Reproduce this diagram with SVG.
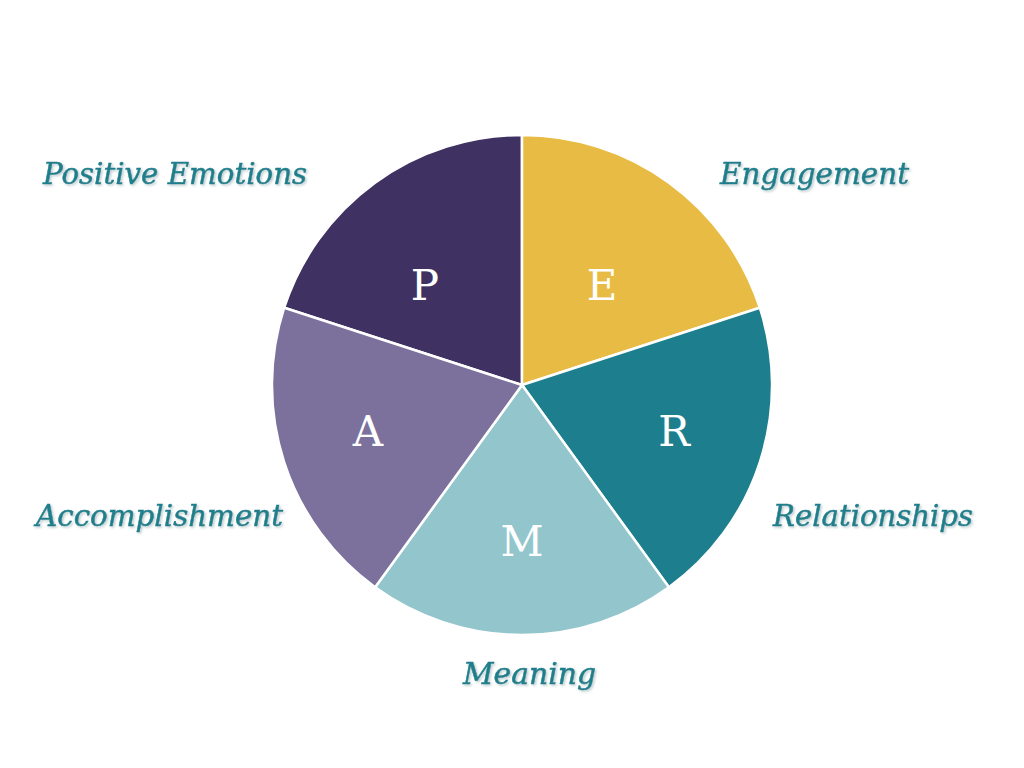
<svg xmlns="http://www.w3.org/2000/svg" width="1024" height="768" viewBox="0 0 1024 768">
<style>
.lbl{font-family:"DejaVu Serif","Liberation Serif",serif;font-style:italic;font-size:29px;fill:#1f7f8c;stroke:#1f7f8c;stroke-width:0.5;filter:url(#sh)}
.ltr{font-family:"DejaVu Serif","Liberation Serif",serif;font-size:42px;fill:#ffffff;text-anchor:middle}
.sl{stroke:#ffffff;stroke-width:2.5;stroke-linejoin:round}
</style>
<defs>
<filter id="sh" x="-10%" y="-30%" width="120%" height="160%">
<feDropShadow dx="1.5" dy="1.5" stdDeviation="1" flood-color="#9fb7bb" flood-opacity="0.7"/>
</filter>
</defs>
<rect width="1024" height="768" fill="#ffffff"/>
<g id="slice-P"><path class="sl" fill="#3f3161" d="M522,385 L284.2,307.7 A250,250 0 0 1 522,135 Z"/><text class="ltr" x="425" y="300">P</text></g>
<g id="slice-E"><path class="sl" fill="#e8bc44" d="M522,385 L522,135 A250,250 0 0 1 759.8,307.7 Z"/><text class="ltr" x="602" y="300">E</text></g>
<g id="slice-R"><path class="sl" fill="#1d7f8e" d="M522,385 L759.8,307.7 A250,250 0 0 1 668.9,587.3 Z"/><text class="ltr" x="674" y="446">R</text></g>
<g id="slice-M"><path class="sl" fill="#93c5cc" d="M522,385 L668.9,587.3 A250,250 0 0 1 375.1,587.3 Z"/><text class="ltr" x="522" y="556">M</text></g>
<g id="slice-A"><path class="sl" fill="#7b719c" d="M522,385 L375.1,587.3 A250,250 0 0 1 284.2,307.7 Z"/><text class="ltr" x="368" y="446">A</text></g>
<g id="labels">
<text class="lbl" x="43" y="184" textLength="264" lengthAdjust="spacingAndGlyphs">Positive Emotions</text>
<text class="lbl" x="720" y="184" textLength="189" lengthAdjust="spacingAndGlyphs">Engagement</text>
<text class="lbl" x="36" y="526" textLength="247" lengthAdjust="spacingAndGlyphs">Accomplishment</text>
<text class="lbl" x="773" y="526" textLength="200" lengthAdjust="spacingAndGlyphs">Relationships</text>
<text class="lbl" x="463" y="684" textLength="133" lengthAdjust="spacingAndGlyphs">Meaning</text>
</g>
</svg>
